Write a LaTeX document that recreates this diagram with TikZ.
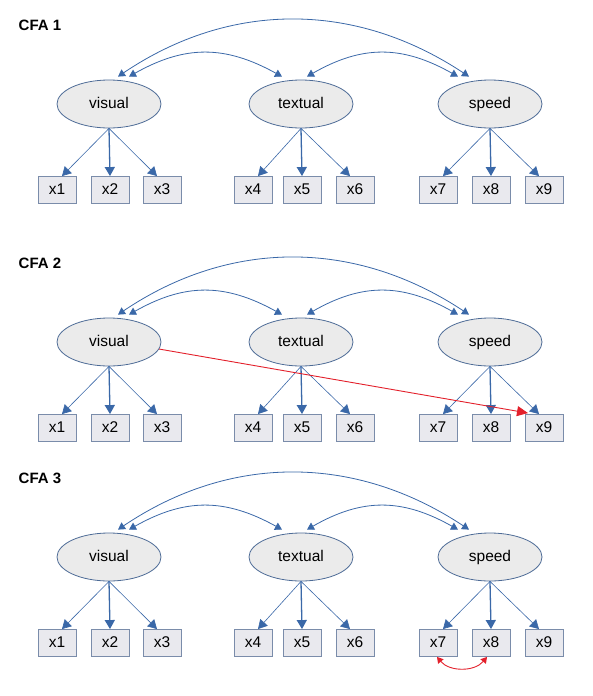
\documentclass[tikz,border=0pt]{standalone}
\usepackage{fontspec}
\setmainfont{Liberation Sans}
\usetikzlibrary{shapes.geometric,arrows.meta}
\definecolor{lblue}{HTML}{3A68A8}
\definecolor{eborder}{HTML}{4D6B96}
\definecolor{efill}{HTML}{EBEBEB}
\definecolor{bfill}{HTML}{E9E9EE}
\definecolor{bborder}{HTML}{7A8CAA}
\definecolor{redc}{HTML}{E3202B}
\begin{document}
\begin{tikzpicture}[x=1pt,y=-1pt,
  title/.style={font=\fontsize{15}{18}\selectfont\bfseries, inner sep=0pt},
  lat/.style={ellipse, draw=eborder, fill=efill, line width=0.8pt, minimum width=104pt, minimum height=48pt, inner sep=0pt, text height=11pt, text depth=3pt, font=\fontsize{15.5}{18}\selectfont},
  obs/.style={rectangle, draw=bborder, fill=bfill, line width=0.9pt, minimum width=38pt, minimum height=27pt, inner sep=0pt, text height=11pt, text depth=2pt, font=\fontsize{15.5}{18}\selectfont},
  load/.style={draw=lblue, line width=0.6pt, -{Triangle[length=9pt,width=10pt]}},
  loadmid/.style={load, line width=1.3pt},
  cov/.style={draw=lblue, line width=0.8pt, {Triangle[length=7pt,width=8pt]}-{Triangle[length=7pt,width=8pt]}},
  redarrow/.style={draw=redc, line width=0.9pt, -{Triangle[length=11pt,width=10pt]}},
  redcov/.style={draw=redc, line width=0.9pt, {Triangle[length=6pt,width=7pt]}-{Triangle[length=6pt,width=7pt]}}
]
\useasboundingbox (0,0) rectangle (592,696);
\foreach \p/\dy in {1/0,2/238,3/453}{
  \begin{scope}[yshift=-\dy pt]
    \node[title] (t\p) at (40,25) {CFA \p};
    \node[lat] (vis\p) at (109,104) {visual};
    \node[lat] (tex\p) at (301,104) {textual};
    \node[lat] (spd\p) at (490,104) {speed};
    \foreach \i/\xx in {1/57,2/110,3/162,4/253,5/302,6/355,7/438,8/491,9/544}{
      \node[obs] (b\p-\i) at (\xx,190) {x\i};
    }
    \foreach \l/\a/\b/\c in {vis/1/2/3,tex/4/5/6,spd/7/8/9}{
      \draw[load] (\l\p.south) -- ([xshift=5pt]b\p-\a.north);
      \draw[loadmid] (\l\p.south) -- (b\p-\b.north);
      \draw[load] (\l\p.south) -- ([xshift=-5pt]b\p-\c.north);
    }
    \coordinate (va\p) at ([xshift=9pt,yshift=3pt]vis\p.north);
    \coordinate (vb\p) at ([xshift=20pt,yshift=3pt]vis\p.north);
    \coordinate (ta\p) at ([xshift=-19pt,yshift=3pt]tex\p.north);
    \coordinate (tb\p) at ([xshift=6pt,yshift=3pt]tex\p.north);
    \coordinate (sa\p) at ([xshift=-32pt,yshift=3pt]spd\p.north);
    \coordinate (sb\p) at ([xshift=-21pt,yshift=3pt]spd\p.north);
    \draw[cov] (va\p) .. controls (230,1) and (355,1) .. (sb\p);
    \draw[cov] (vb\p) .. controls (185,45) and (225,45) .. (ta\p);
    \draw[cov] (tb\p) .. controls (362,45) and (402,45) .. (sa\p);
  \end{scope}
}
\draw[redarrow] (vis2.-8) -- ([xshift=-16pt,yshift=1pt]b2-9.north);
\draw[redcov] ([xshift=-1pt]b3-7.south) to[bend right=50] ([xshift=-4pt]b3-8.south);
\end{tikzpicture}
\end{document}
